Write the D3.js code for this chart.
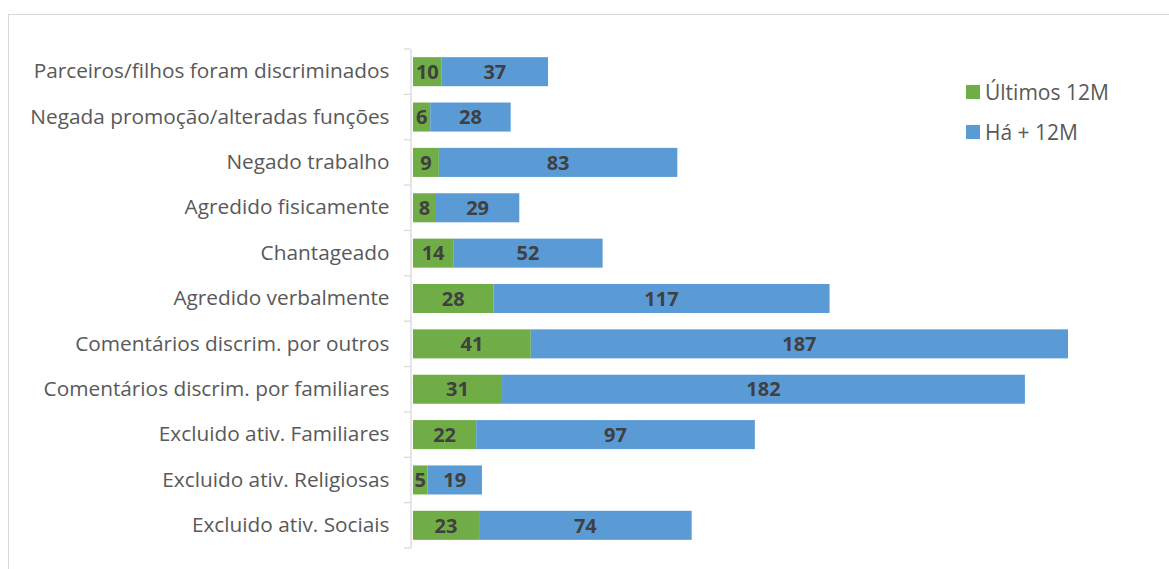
<!DOCTYPE html>
<html>
<head>
<meta charset="utf-8">
<script src="https://cdn.jsdelivr.net/npm/d3@7"></script>
<style>
  body { margin: 0; background: #fff; }
  text { font-family: "Open Sans", sans-serif; }
</style>
</head>
<body>
<svg id="chart" width="1169" height="569"></svg>
<script>
// categories from top to bottom
let categories = [
  "Parceiros/filhos foram discriminados",
  "Negada promoção/alteradas funções",
  "Negado trabalho",
  "Agredido fisicamente",
  "Chantageado",
  "Agredido verbalmente",
  "Comentários discrim. por outros",
  "Comentários discrim. por familiares",
  "Excluido ativ. Familiares",
  "Excluido ativ. Religiosas",
  "Excluido ativ. Sociais"
]
let ultimos = [10, 6, 9, 8, 14, 28, 41, 31, 22, 5, 23]
let haMais = [37, 28, 83, 29, 52, 117, 187, 182, 97, 19, 74]
let seriesNames = ["Últimos 12M", "Há + 12M"]
let colors = ["#70AD47", "#5B9BD5"]

let width = 1169
let height = 569
let margin = { top: 49, right: 101, bottom: 21, left: 413 }

let data = categories.map((c, i) => ({ cat: c, a: ultimos[i], b: haMais[i] }))

let x = d3.scaleLinear()
    .domain([0, d3.max(data, d => d.a + d.b)])
    .range([margin.left, width - margin.right])

let y = d3.scaleBand()
    .domain(categories)
    .range([margin.top, height - margin.bottom])
    .paddingInner(0.36)
    .paddingOuter(0.18)

const svg = d3.select("#chart")

// chart area frame (only top and left visible)
svg.append("rect")
    .attr("x", 8.5).attr("y", 14.5)
    .attr("width", 1200).attr("height", 600)
    .attr("fill", "none")
    .attr("stroke", "#d9d9d9")
    .attr("stroke-width", 1)

// category axis
let yAxis = g => g
    .attr("transform", `translate(${margin.left - 2.5},0)`)
    .call(d3.axisLeft(y).tickSize(0).tickPadding(21))
    .call(g => g.select(".domain").attr("stroke", "#d9d9d9").attr("stroke-width", 1.3))
    .call(g => g.selectAll(".tick text")
        .attr("font-size", 20.8)
        .attr("fill", "#595959")
        .attr("font-family", "'Open Sans', sans-serif"))

svg.append("g").call(yAxis)

// ticks at category boundaries
let step = y.step()
let bounds = d3.range(categories.length + 1).map(i => y.range()[0] + i * step)
svg.append("g")
    .selectAll("line")
    .data(bounds)
    .join("line")
    .attr("x1", margin.left - 9)
    .attr("x2", margin.left - 2.5)
    .attr("y1", d => d)
    .attr("y2", d => d)
    .attr("stroke", "#d9d9d9")
    .attr("stroke-width", 1.3)

// stacked bars
let stack = d3.stack().keys(["a", "b"])(data)

let layer = svg.append("g")
    .selectAll("g")
    .data(stack)
    .join("g")
    .attr("fill", (d, i) => colors[i])

layer.selectAll("rect")
    .data(d => d)
    .join("rect")
    .attr("x", d => x(d[0]))
    .attr("y", d => y(d.data.cat))
    .attr("width", d => x(d[1]) - x(d[0]))
    .attr("height", y.bandwidth())

// value labels
layer.selectAll("text")
    .data(d => d)
    .join("text")
    .attr("x", d => (x(d[0]) + x(d[1])) / 2)
    .attr("y", d => y(d.data.cat) + y.bandwidth() / 2)
    .attr("dy", "0.36em")
    .attr("text-anchor", "middle")
    .attr("font-size", 20)
    .attr("font-weight", "bold")
    .attr("fill", "#404040")
    .text(d => d[1] - d[0])

// legend
let legend = svg.append("g")
    .selectAll("g")
    .data(seriesNames)
    .join("g")
    .attr("transform", (d, i) => `translate(966,${92 + i * 40})`)

legend.append("rect")
    .attr("x", 0).attr("y", -7)
    .attr("width", 14).attr("height", 14)
    .attr("fill", (d, i) => colors[i])

legend.append("text")
    .attr("x", 19)
    .attr("dy", "0.36em")
    .attr("font-size", 21)
    .attr("fill", "#595959")
    .text(d => d)
</script>
</body>
</html>
